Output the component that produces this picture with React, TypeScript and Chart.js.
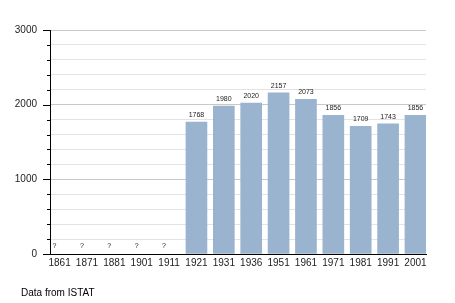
import React, { useEffect, useRef } from "react";
import { Chart, registerables } from "chart.js";

Chart.register(...registerables);

const years: string[] = ["1861", "1871", "1881", "1901", "1911", "1921", "1931", "1936", "1951", "1961", "1971", "1981", "1991", "2001"];
const population: (number | null)[] = [null, null, null, null, null, 1768, 1980, 2020, 2157, 2073, 1856, 1709, 1743, 1856];
const yMax = 3000;
const yStep = 200;
const yLabelStep = 1000;
const sourceNote = "Data from ISTAT";

const FONT = "'Liberation Sans', Arial, sans-serif";
const BAR_COLOR = "#9ab3ce";

export default function App() {
  const canvasRef = useRef<HTMLCanvasElement | null>(null);

  useEffect(() => {
    document.body.style.margin = "0";
    const canvas = canvasRef.current;
    if (!canvas) return;

    const annotate = {
      id: "annotate",
      afterDraw(chart: any) {
        const ctx = chart.ctx;
        const xs = chart.scales.x;
        const ys = chart.scales.y;
        const area = chart.chartArea;
        ctx.save();
        // y tick marks
        ctx.strokeStyle = "#000";
        ctx.lineWidth = 1;
        ys.ticks.forEach((t: any) => {
          const y = Math.round(ys.getPixelForValue(t.value)) + 0.5;
          const len = t.value % yLabelStep === 0 ? 7 : 3;
          ctx.beginPath();
          ctx.moveTo(area.left - len, y);
          ctx.lineTo(area.left, y);
          ctx.stroke();
        });
        // value labels
        const meta = chart.getDatasetMeta(0);
        ctx.fillStyle = "#222";
        ctx.font = `7px ${FONT}`;
        ctx.textBaseline = "alphabetic";
        population.forEach((v, i) => {
          const el: any = meta.data[i];
          const cx = xs.getPixelForValue(i);
          const half = el && el.width ? el.width / 2 : 10.5;
          if (v === null) {
            ctx.textAlign = "left";
            ctx.fillText("?", cx - half + 3.5, ys.getPixelForValue(0) - 6.5);
          } else {
            ctx.textAlign = "center";
            ctx.fillText(String(v), cx, ys.getPixelForValue(v) - 5);
          }
        });
        ctx.restore();
      },
    };

    const chart = new Chart(canvas, {
      type: "bar",
      data: {
        datasets: [
          {
            data: population.map((v, i) => ({ x: i, y: v })) as any,
            backgroundColor: BAR_COLOR,
            borderWidth: 0,
            barThickness: 21,
          },
        ],
      },
      options: {
        responsive: false,
        animation: false,
        devicePixelRatio: 1,
        layout: { padding: { top: 30, right: 29, bottom: 0, left: 0 } },
        plugins: {
          legend: { display: false },
          tooltip: { enabled: false },
        },
        scales: {
          x: {
            type: "linear",
            offset: false,
            min: -0.35,
            max: 13.385,
            grid: { display: false, drawTicks: false },
            border: { display: true, color: "#000", width: 1 },
            afterFit: (s: any) => {
              s.height = 49;
            },
            ticks: {
              stepSize: 1,
              includeBounds: false,
              autoSkip: false,
              maxRotation: 0,
              padding: 3,
              color: "#222",
              font: { family: FONT, size: 10 },
              callback: (v: any) => (Number.isInteger(v) && years[v] ? years[v] : ""),
            },
          },
          y: {
            min: 0,
            max: yMax,
            grid: {
              drawTicks: false,
              color: (c: any) => (c.tick && c.tick.value % yLabelStep === 0 ? "#c8c8c8" : "#e3e3e3"),
              lineWidth: 1,
            },
            border: { display: true, color: "#000", width: 1 },
            afterFit: (s: any) => {
              s.width = 50;
            },
            ticks: {
              stepSize: yStep,
              maxTicksLimit: 100,
              autoSkip: false,
              padding: 13,
              color: "#222",
              font: { family: FONT, size: 10 },
              callback: (v: any) => (v % yLabelStep === 0 ? String(v) : ""),
            },
          },
        },
      },
      plugins: [annotate],
    });

    return () => chart.destroy();
  }, []);

  return (
    <div style={{ position: "relative", width: 455, height: 303, background: "#fff" }}>
      <canvas ref={canvasRef} width={455} height={303} style={{ display: "block" }} />
      <div
        style={{
          position: "absolute",
          left: 21,
          top: 287,
          fontFamily: FONT,
          fontSize: 10,
          lineHeight: "11px",
          color: "#000",
          whiteSpace: "nowrap",
        }}
      >
        {sourceNote}
      </div>
    </div>
  );
}
